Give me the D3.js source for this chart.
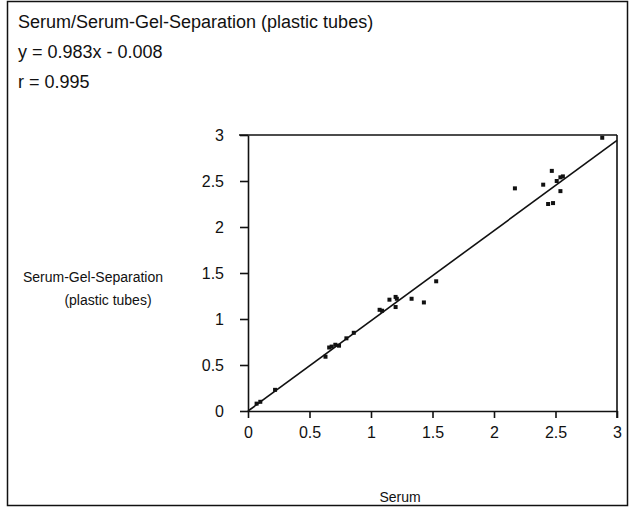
<!DOCTYPE html>
<html>
<head>
<meta charset="utf-8">
<script src="https://cdn.jsdelivr.net/npm/d3@7"></script>
<style>
  body { margin: 0; background: #fff; }
  text { font-family: "Liberation Sans", Arial, sans-serif; fill: #111; }
</style>
</head>
<body>
<div id="chart"></div>
<script>
var width = 630, height = 507;

// measured values (serum vs serum-gel-separation)
var serum = [0.07, 0.10, 0.22, 0.63, 0.66, 0.68, 0.71, 0.74, 0.80, 0.86,
             1.07, 1.09, 1.15, 1.20, 1.21, 1.20, 1.33, 1.43, 1.53,
             2.17, 2.40, 2.47, 2.51, 2.54, 2.56, 2.54, 2.44, 2.48, 2.88];
var gel   = [0.08, 0.10, 0.23, 0.59, 0.69, 0.70, 0.72, 0.71, 0.79, 0.85,
             1.10, 1.09, 1.21, 1.24, 1.22, 1.13, 1.22, 1.18, 1.41,
             2.42, 2.46, 2.61, 2.50, 2.54, 2.55, 2.39, 2.25, 2.26, 2.97];

var slope = 0.983, intercept = -0.008;
var ticks = [0, 0.5, 1, 1.5, 2, 2.5, 3];
var titleLines = ["Serum/Serum-Gel-Separation (plastic tubes)", "y = 0.983x - 0.008", "r = 0.995"];

var svg = d3.select("#chart").append("svg")
  .attr("width", width)
  .attr("height", height);

// outer frame
svg.append("rect")
  .attr("x", 7.5).attr("y", 1.5)
  .attr("width", 620).attr("height", 504)
  .attr("fill", "none")
  .attr("stroke", "#111")
  .attr("stroke-width", 1.5);

svg.selectAll(".title")
  .data(titleLines).enter()
  .append("text")
  .attr("class", "title")
  .attr("x", 18)
  .attr("y", function(d, i) { return 28 + i * 30; })
  .style("font-size", "18px")
  .text(function(d) { return d; });

var x = d3.scaleLinear().domain([0, 3]).range([248, 617]);
var y = d3.scaleLinear().domain([0, 3]).range([411, 135]);

// x axis
var xAxis = d3.axisBottom(x).tickValues(ticks).tickFormat(d3.format("")).tickSizeInner(7).tickSizeOuter(0).tickPadding(9);
var gx = svg.append("g").attr("transform", "translate(0," + y(0) + ")").call(xAxis);

// y axis
var yAxis = d3.axisLeft(y).tickValues(ticks).tickFormat(d3.format("")).tickSizeInner(8).tickSizeOuter(0).tickPadding(16);
var gy = svg.append("g").attr("transform", "translate(" + x(0) + ",0)").call(yAxis);

[gx, gy].forEach(function(g) {
  g.select(".domain").attr("stroke", "#111").attr("stroke-width", 1.6);
  g.selectAll(".tick line").attr("stroke", "#111").attr("stroke-width", 1.6);
  g.selectAll(".tick text").style("font-size", "16px").style("font-family", "Liberation Sans, Arial, sans-serif").attr("fill", "#111");
});

// top and right frame of the plot
svg.append("line")
  .attr("x1", x(0) - 9).attr("x2", x(3))
  .attr("y1", y(3)).attr("y2", y(3))
  .attr("stroke", "#111").attr("stroke-width", 1.6);
svg.append("line")
  .attr("x1", x(3)).attr("x2", x(3))
  .attr("y1", y(3)).attr("y2", y(0) + 7)
  .attr("stroke", "#111").attr("stroke-width", 1.6);

// regression line
svg.append("line")
  .attr("x1", x(0)).attr("y1", y(Math.max(0, intercept)))
  .attr("x2", x(3)).attr("y2", y(slope * 3 + intercept))
  .attr("stroke", "#111").attr("stroke-width", 1.6);

// points
var pts = serum.map(function(v, i) { return [v, gel[i]]; });
svg.selectAll("rect.pt")
  .data(pts).enter()
  .append("rect")
  .attr("class", "pt")
  .attr("x", function(d) { return x(d[0]) - 2; })
  .attr("y", function(d) { return y(d[1]) - 2; })
  .attr("width", 4).attr("height", 4)
  .attr("fill", "#111");

// axis titles
svg.append("text")
  .attr("x", 93).attr("y", 282)
  .attr("text-anchor", "middle")
  .style("font-size", "14px")
  .text("Serum-Gel-Separation");
svg.append("text")
  .attr("x", 108).attr("y", 305)
  .attr("text-anchor", "middle")
  .style("font-size", "14px")
  .text("(plastic tubes)");
svg.append("text")
  .attr("x", 400).attr("y", 502)
  .attr("text-anchor", "middle")
  .style("font-size", "14px")
  .text("Serum");
</script>
</body>
</html>
